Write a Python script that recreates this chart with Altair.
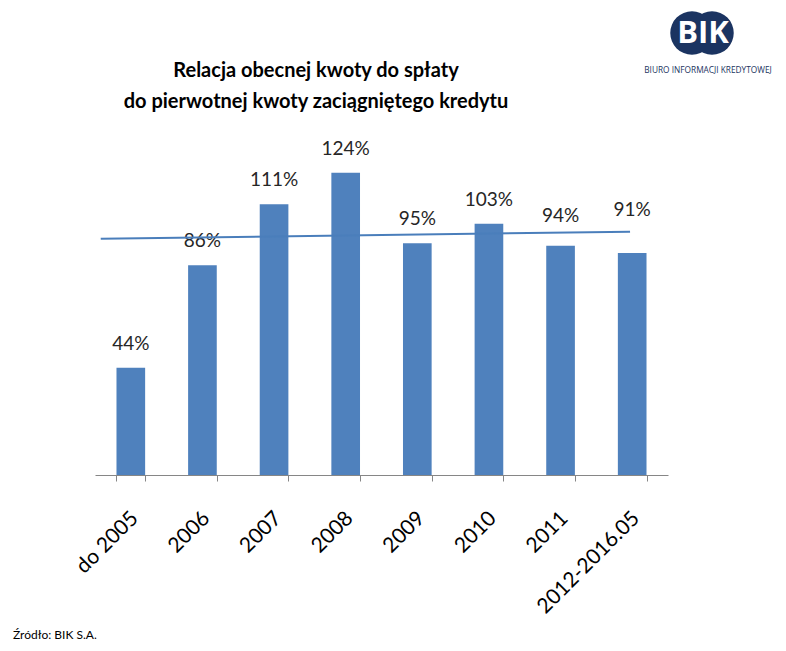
import altair as alt
import pandas as pd

# --- data ---
categories = ["do 2005", "2006", "2007", "2008", "2009", "2010", "2011", "2012-2016.05"]
ratios = [0.44, 0.86, 1.11, 1.24, 0.95, 1.03, 0.94, 0.91]
# the last two labels were nudged up in the original to clear the trend line
label_lift = [0, 0, 0, 0, 0, 0, 0.025, 0.08]
trend_x = [0.08, 7.47]          # in category units (0..8)
trend_y = [0.969, 0.998]

title_text = "Relacja obecnej kwoty do spłaty\ndo pierwotnej kwoty zaciągniętego kredytu"
source_text = "Źródło: BIK S.A."

BLUE = "#4f81bd"
NAVY = "#1b3461"
FONT = "Lato"

bars_df = pd.DataFrame({"kat": categories, "val": ratios, "lift": label_lift})
bars_df["label_y"] = bars_df["val"] + bars_df["lift"]
trend_df = pd.DataFrame({"x": trend_x, "y": trend_y})

y_scale = alt.Scale(domain=[0, 1.3])

x_enc = alt.X(
    "kat:N",
    sort=categories,
    scale=alt.Scale(paddingInner=0.6, paddingOuter=0.3),
    axis=alt.Axis(
        title=None,
        labelAngle=-45,
        labelAlign="right",
        labelBaseline="top",
        labelFont=FONT,
        labelFontSize=21,
        labelColor="#000000",
        labelPadding=26,
        labelOffset=-4,
        tickBand="extent",
        tickSize=6,
        tickColor="#868686",
        domainColor="#868686",
        grid=False,
    ),
)

bars = alt.Chart(bars_df).mark_bar(color=BLUE).encode(
    x=x_enc, y=alt.Y("val:Q", scale=y_scale, axis=None)
)

labels = alt.Chart(bars_df).mark_text(
    font=FONT, fontSize=19, color="#262626", baseline="bottom", dy=-14
).encode(
    x=x_enc,
    y=alt.Y("label_y:Q", scale=y_scale, axis=None),
    text=alt.Text("val:Q", format=".0%"),
)

trend = (
    alt.Chart(trend_df)
    .mark_line(color="#4a7ebb", strokeWidth=2)
    .encode(
        x=alt.X("x:Q", scale=alt.Scale(domain=[0, 8], nice=False, zero=True), axis=None),
        y=alt.Y("y:Q", scale=y_scale, axis=None),
    )
)

# --- title, logo and source note ---
title = alt.Chart().mark_text(
    text=title_text, lineBreak="\n", lineHeight=31, font=FONT, fontSize=20,
    fontWeight="bold", color="#000000", align="center", baseline="middle",
).encode(x=alt.value(221), y=alt.value(-87))

def logo_circle(cx):
    return alt.Chart().mark_circle(color=NAVY, opacity=1).encode(
        x=alt.value(cx), y=alt.value(-125), size=alt.value(1890)
    )

logo_text = alt.Chart().mark_text(
    text="BIK", font="Open Sans", fontWeight="bold", fontSize=31, color="white",
    align="center", baseline="middle",
).encode(x=alt.value(608), y=alt.value(-124))
logo_sub = alt.Chart().mark_text(
    text="BIURO INFORMACJI KREDYTOWEJ", font="Open Sans", fontSize=8.3, color=NAVY,
    align="center", baseline="middle",
).encode(x=alt.value(613), y=alt.value(-87))
source = alt.Chart().mark_text(
    text=source_text, font=FONT, fontSize=12, color="#000000",
    align="left", baseline="middle",
).encode(x=alt.value(-82), y=alt.value(477))

chart = (
    alt.layer(
        alt.layer(bars, labels),
        trend,
        title,
        logo_circle(597),
        logo_circle(617),
        logo_text,
        logo_sub,
        source,
    )
    .resolve_scale(x="independent")
    .properties(
        width=573,
        height=317,
        padding={"left": 87, "top": 150, "right": 110, "bottom": 168},
        autosize=alt.AutoSizeParams(type="none"),
    )
    .configure_view(stroke=None)
)

chart.save("out.html", embed_options={"renderer": "svg", "actions": False})
